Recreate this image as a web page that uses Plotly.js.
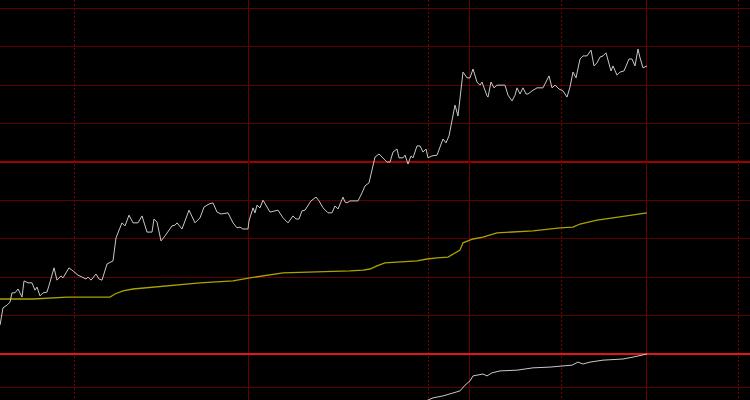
<!DOCTYPE html>
<html>
<head>
<meta charset="utf-8">
<script src="https://cdn.plot.ly/plotly-3.0.1.min.js"></script>
<style>html,body{margin:0;padding:0;background:#000;}#chart{width:750px;height:400px;}</style>
</head>
<body>
<div id="chart"></div>
<script>
// Price series (white)
var priceX = [0,0.3,0.7,1.0,1.2,1.5,1.8,2.2,2.4,2.8,3.2,3.5,3.7,4.0,4.3,4.7,5.0,5.4,5.7,6.1,6.3,6.9,7.3,7.8,8.2,8.6,8.8,9.1,9.6,9.9,10.2,10.7,11.3,11.6,12.2,12.5,12.9,13.3,13.8,14.2,14.7,15.2,15.4,15.7,16.1,16.5,17.2,17.5,17.7,18.2,18.9,19.5,20.0,20.4,20.9,21.3,21.7,22.1,22.8,23.3,23.7,24.0,24.3,24.8,24.9,25.3,25.5,25.7,26.0,26.3,27.0,27.8,28.3,28.8,29.3,29.6,29.9,30.2,30.5,31.1,31.6,31.9,32.3,32.8,33.2,33.5,33.8,34.3,34.5,34.7,35.0,35.8,36.2,36.5,36.9,37.5,37.9,38.3,38.7,39.0,39.3,39.7,39.9,40.3,40.5,40.8,41.1,41.3,41.7,42.0,42.3,42.6,42.8,43.2,43.7,44.3,44.6,44.9,45.5,45.8,46.3,46.7,47.0,47.3,47.7,48.0,48.2,48.7,48.8,49.1,49.4,49.7,50.5,50.8,51.2,51.5,51.7,52.0,52.3,52.6,52.8,53.2,53.7,54.3,54.9,55.2,55.5,55.9,56.3,56.7,57.0,57.3,57.6,58.0,58.3,58.7,59.1,59.4,59.7,60.0,60.3,60.6,61.1,61.3,61.7,62.0,62.4,62.9,63.2,63.5,63.8,64.0,64.3,64.7];
var priceY = [7.5,12.0,12.7,13.5,15.9,15.9,16.9,14.8,19.0,18.5,18.5,16.6,17.4,15.1,15.9,16.1,18.7,22.4,19.2,20.3,19.8,22.4,21.6,20.5,20.0,19.5,20.0,19.2,20.8,19.5,19.2,23.4,24.2,30.2,34.1,33.3,36.1,34.1,34.1,35.9,31.7,31.7,35.1,34.3,29.4,30.7,33.3,33.5,34.1,32.5,37.4,34.1,35.4,38.2,39.0,39.3,36.9,36.4,36.7,34.1,32.8,33.0,32.5,32.5,34.6,38.0,36.7,38.7,38.0,40.0,36.9,37.4,35.4,34.1,35.9,35.1,35.1,37.2,37.4,39.8,40.8,39.8,38.0,36.7,36.7,38.5,37.7,40.8,39.5,39.3,39.8,39.8,41.9,43.7,44.5,51.2,52.0,51.0,49.9,49.9,52.5,53.3,51.0,51.0,51.7,49.4,51.5,51.0,54.1,54.1,52.5,53.3,51.0,51.5,51.7,55.9,54.9,56.7,64.7,61.9,73.3,71.8,71.8,74.1,70.7,69.9,70.7,67.1,66.8,70.7,69.2,69.9,69.9,67.3,65.8,67.3,69.2,67.6,69.2,67.6,67.6,68.4,69.2,69.2,72.3,69.2,69.9,68.9,68.4,66.8,69.4,73.3,71.8,76.7,77.5,77.5,79.0,74.9,75.7,77.2,77.5,78.3,73.6,74.9,72.5,73.3,73.6,76.7,76.7,74.9,79.3,77.0,74.4,74.9];

// Moving average (yellow)
var avgX = [0,3.3,6.7,11.0,11.5,12.3,13.3,16.7,20.0,23.3,25.0,28.3,31.7,35.0,36.3,37.0,37.7,38.5,41.7,42.7,43.7,44.8,46.0,46.3,47.3,48.3,49.7,53.3,56.0,57.3,58.0,59.7,61.3,63.3,64.7];
var avgY = [14.3,14.3,14.8,14.8,15.6,16.4,16.9,17.7,18.5,19.0,19.8,21.1,21.3,21.6,21.8,22.1,22.9,23.7,24.2,24.7,25.0,25.2,27.0,28.9,29.9,30.4,31.5,32.0,32.8,33.0,33.8,34.8,35.4,36.1,36.7];

// Lower series (white)
var lowX = [42.6,43.3,44.3,45.3,46.0,46.5,47.0,47.3,47.8,48.3,48.7,49.2,50.0,51.7,53.3,55.0,57.2,57.8,58.3,59.0,60.3,62.3,63.3,64.7];
var lowY = [-12.2,-11.4,-10.9,-10.1,-9.6,-8.1,-7.0,-5.7,-5.5,-5.2,-5.7,-4.9,-4.4,-4.2,-3.6,-3.4,-2.9,-2.1,-2.6,-2.1,-1.6,-1.3,-0.8,0.0];

// Grid positions (axis units)
var xSolidGrid = [24.85, 46.95, 64.65];
var xDottedGrid = [7.45, 42.85, 56.15, 73.85];
var yThinGrid = [-8.71, 10.01, 19.89, 30.03, 39.91, 59.93, 69.81, 79.95, 89.83];
var yThickGrid = [49.92];

var traces = [
  {x: avgX, y: avgY, type: 'scatter', mode: 'lines', line: {color: '#a8a400', width: 1.3}},
  {x: priceX, y: priceY, type: 'scatter', mode: 'lines', line: {color: '#c8c8c8', width: 1}},
  {x: lowX, y: lowY, type: 'scatter', mode: 'lines', line: {color: '#c8c8c8', width: 1}},
  {x: [], y: [], type: 'scatter', mode: 'lines', xaxis: 'x2', yaxis: 'y', showlegend: false}
];

var layout = {
  width: 750, height: 400,
  margin: {l: 0, r: 0, t: 0, b: 0, pad: 0},
  paper_bgcolor: '#000000', plot_bgcolor: '#000000',
  showlegend: false, hovermode: false,
  xaxis: {
    range: [0, 75], showticklabels: false, ticks: '', showline: false, zeroline: false,
    tickmode: 'array', tickvals: xSolidGrid, showgrid: true, gridcolor: '#640000', gridwidth: 1
  },
  xaxis2: {
    overlaying: 'x', range: [0, 75], showticklabels: false, ticks: '', showline: false, zeroline: false,
    tickmode: 'array', tickvals: xDottedGrid, showgrid: true, gridcolor: '#7a0000', gridwidth: 1, griddash: '2px,2px'
  },
  yaxis: {
    range: [-11.96, 92.04], showticklabels: false, ticks: '', showline: false,
    tickmode: 'array', tickvals: yThinGrid, showgrid: true, gridcolor: '#5e0000', gridwidth: 1,
    zeroline: true, zerolinecolor: '#e0161a', zerolinewidth: 2,
    minor: {tickmode: 'array', tickvals: yThickGrid, showgrid: true, gridcolor: '#a00000', gridwidth: 2, ticks: ''}
  }
};

Plotly.newPlot('chart', traces, layout, {staticPlot: true, displayModeBar: false});
</script>
</body>
</html>
